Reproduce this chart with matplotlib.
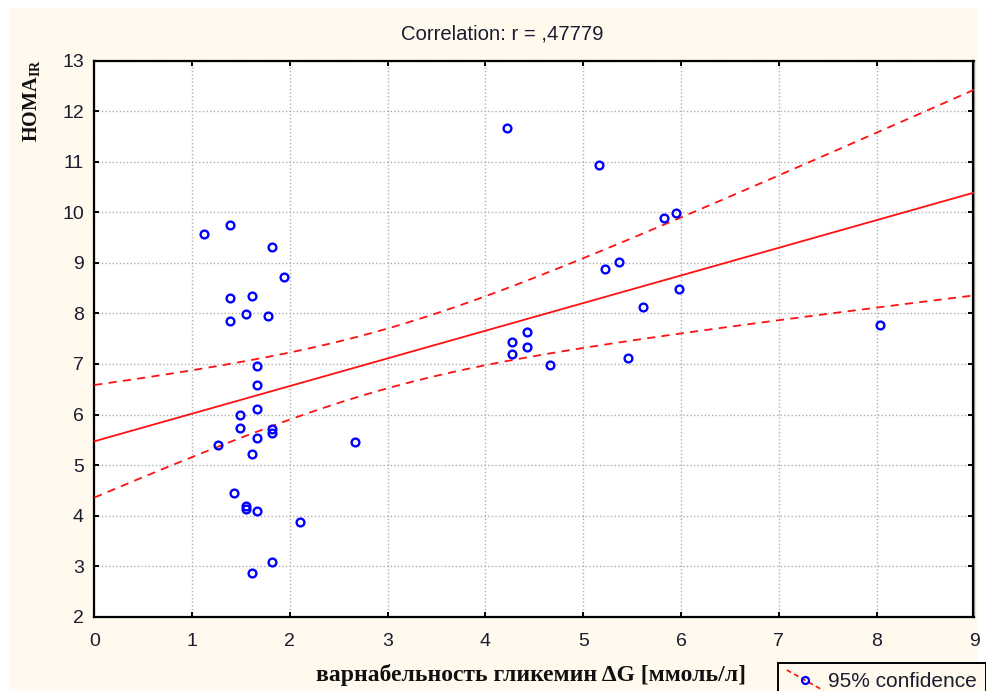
import numpy as np
import matplotlib
matplotlib.use("Agg")
import matplotlib.pyplot as plt
from matplotlib.lines import Line2D
from matplotlib.patches import Rectangle
from matplotlib.legend_handler import HandlerBase

plt.rcParams['font.family'] = ['Liberation Sans', 'DejaVu Sans']
plt.rcParams['mathtext.fontset'] = 'custom'
plt.rcParams['mathtext.rm'] = 'Liberation Serif'
plt.rcParams['mathtext.bf'] = 'Liberation Serif:bold'

# Glycaemic variability (ΔG, mmol/l) and HOMA-IR for each patient
delta_g = [1.12, 1.39, 1.82, 1.94, 1.39, 1.61, 1.55, 1.78, 1.39,
           4.22, 5.16, 5.83, 5.95, 5.22, 5.37, 5.98, 5.61, 8.04,
           4.43, 4.27, 4.43, 4.27, 4.66, 5.46,
           1.66, 1.66, 1.66, 1.49, 1.49, 1.82, 1.82, 1.66, 1.27,
           1.61, 2.67, 1.43, 1.55, 1.55, 1.66, 2.10, 1.82, 1.61]
homa_ir = [9.57, 9.74, 9.32, 8.73, 8.31, 8.34, 7.99, 7.95, 7.85,
           11.67, 10.94, 9.88, 9.99, 8.87, 9.01, 8.48, 8.13, 7.78,
           7.64, 7.43, 7.33, 7.19, 6.97, 7.11,
           6.96, 6.58, 6.10, 5.99, 5.74, 5.72, 5.64, 5.54, 5.39,
           5.21, 5.46, 4.45, 4.20, 4.13, 4.09, 3.88, 3.08, 2.86]

title_text = "Correlation: r = ,47779"
x_label = "варнабельность гликемин ΔG [ммоль/л]"
y_label = r"$\mathbf{HOMA}_{\mathbf{IR}}$"
legend_label = "95% confidence"
x_ticks = list(range(0, 10))
y_ticks = list(range(2, 14))

# Least-squares fit and 95% confidence band for the mean
x = np.asarray(delta_g)
y = np.asarray(homa_ir)
n = len(x)
slope, intercept = np.polyfit(x, y, 1)
resid = y - (intercept + slope * x)
s = np.sqrt(np.sum(resid ** 2) / (n - 2))
sxx = np.sum((x - x.mean()) ** 2)
t_crit = 2.021  # Student t, 0.975 quantile, 40 d.f.
xs = np.linspace(0, 9, 200)
fit = intercept + slope * xs
half = t_crit * s * np.sqrt(1.0 / n + (xs - x.mean()) ** 2 / sxx)

W, H = 986, 691
fig = plt.figure(figsize=(W / 100, H / 100), dpi=100, facecolor='white')
cream = '#fff9ee'
fig.add_artist(Rectangle((9 / W, 0), (978 - 9) / W, (H - 8) / H,
                         transform=fig.transFigure, facecolor=cream,
                         edgecolor='none', zorder=-10))

ax = fig.add_axes([94.3 / W, 1 - 616.7 / H, (974.3 - 94.3) / W, (616.7 - 60.7) / H])
ax.set_facecolor('white')
ax.set_xlim(0, 9)
ax.set_ylim(2, 13)
ax.set_xticks(x_ticks)
ax.set_yticks(y_ticks)

ax.grid(True, color='#b0b0b0', linestyle=(0, (1, 1.6)), linewidth=1.0, zorder=0)
ax.set_axisbelow(True)

red = '#ff1010'
blue = '#0000ff'
ax.plot(xs, fit, color=red, lw=1.3, zorder=3)
ax.plot(xs, fit + half, color=red, lw=1.3, linestyle=(0, (4.5, 3.5)), zorder=3)
ax.plot(xs, fit - half, color=red, lw=1.3, linestyle=(0, (4.5, 3.5)), zorder=3)
ax.plot(x, y, linestyle='none', marker='o', ms=5.6, mfc='none',
        mec=blue, mew=1.7, zorder=4)

for sp in ax.spines.values():
    sp.set_color('#000000')
    sp.set_linewidth(1.6)
# light shadow along the right-hand frame
ax.plot([1, 1], [0, 1], transform=ax.transAxes, color='#9a9a9a', lw=1.0,
        clip_on=False, zorder=1)
ax.spines['right'].set_position(('axes', 0.9985))

txt_color = '#1c1c30'
ax.tick_params(direction='in', length=3.5, width=1.4, top=True, right=True,
               labelsize=14, colors='#000000', labelcolor=txt_color)
ax.tick_params(axis='y', pad=7.5)
ax.tick_params(axis='x', pad=11.5)

fig.text(502 / W, 1 - 34 / H, title_text, ha='center', va='center',
         fontsize=14.6, color=txt_color)
fig.text(531 / W, 1 - 675 / H, x_label, ha='center', va='center',
         fontsize=17, fontweight='bold', family='Liberation Serif',
         color='#101010')
fig.text(32.5 / W, 1 - 101 / H, y_label, ha='center', va='center',
         rotation=90, fontsize=14.5, color='#101010')


class DiagonalHandler(HandlerBase):
    """Legend key: a slanted dashed line with an open circle in the middle."""

    def create_artists(self, legend, orig_handle, xdescent, ydescent,
                       width, height, fontsize, trans):
        x0, x1 = -xdescent, -xdescent + width
        y0, y1 = -ydescent + height * 1.15, -ydescent - height * 0.25
        line = Line2D([x0, x1], [y0, y1], color=red, lw=1.2,
                      linestyle=(0, (3, 2)), transform=trans)
        mark = Line2D([(x0 + x1) / 2], [(y0 + y1) / 2], marker='o', ms=5.0,
                      mfc='none', mec=blue, mew=1.6, linestyle='none',
                      transform=trans)
        return [line, mark]


key = Line2D([], [], color=red)
leg = fig.legend([key], [legend_label], handler_map={Line2D: DiagonalHandler()},
                 loc='upper left', bbox_to_anchor=(778 / W, 1 - 663 / H),
                 borderaxespad=0, fancybox=False, shadow=False, frameon=True,
                 fontsize=15, handlelength=1.75, handletextpad=0.25,
                 borderpad=0.42)
for t in leg.get_texts():
    t.set_color(txt_color)
frame = leg.get_frame()
frame.set_facecolor(cream)
frame.set_edgecolor('#000000')
frame.set_linewidth(1.4)
frame.set_alpha(1)

fig.savefig('out.png', dpi=100, facecolor='white')
